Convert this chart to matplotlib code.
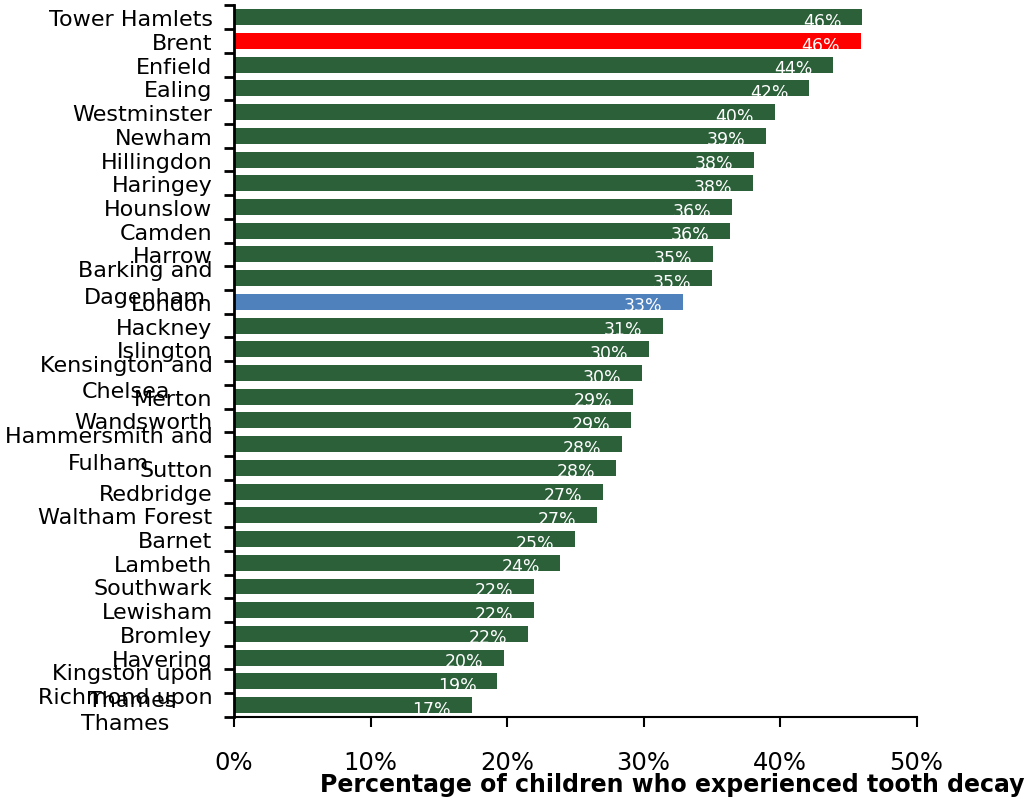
import matplotlib.pyplot as plt

boroughs = ["Tower Hamlets", "Brent", "Enfield", "Ealing", "Westminster", "Newham",
            "Hillingdon", "Haringey", "Hounslow", "Camden", "Harrow",
            "Barking and\nDagenham", "London", "Hackney", "Islington",
            "Kensington and\nChelsea", "Merton", "Wandsworth",
            "Hammersmith and\nFulham", "Sutton", "Redbridge", "Waltham Forest",
            "Barnet", "Lambeth", "Southwark", "Lewisham", "Bromley", "Havering",
            "Kingston upon\nThames", "Richmond upon\nThames"]
decay = [46.0, 45.9, 43.9, 42.1, 39.6, 39.0, 38.1, 38.0, 36.5, 36.3, 35.1,
         35.0, 32.9, 31.4, 30.4, 29.9, 29.2, 29.1, 28.4, 28.0, 27.0, 26.6,
         25.0, 23.9, 22.0, 22.0, 21.5, 19.8, 19.3, 17.4]
pct_labels = ["46%", "46%", "44%", "42%", "40%", "39%", "38%", "38%", "36%", "36%",
              "35%", "35%", "33%", "31%", "30%", "30%", "29%", "29%", "28%", "28%",
              "27%", "27%", "25%", "24%", "22%", "22%", "22%", "20%", "19%", "17%"]
xticks = [0, 10, 20, 30, 40, 50]

green = "#2b6039"
colors = []
for b in boroughs:
    if b == "Brent":
        colors.append("#ff0000")
    elif b == "London":
        colors.append("#4f81bd")
    else:
        colors.append(green)

fig = plt.figure(figsize=(10.31, 8.03), dpi=100)
ax = fig.add_axes([0.227, 0.106, 0.662, 0.886])

ypos = list(range(len(boroughs)))
bars = ax.barh(ypos, decay, height=0.67, color=colors)

# value labels, white, inside the bar end, clipped to the bar
for bar, v, lab in zip(bars, decay, pct_labels):
    t = ax.text(v - 1.5, bar.get_y() + bar.get_height() / 2 + 0.15, lab,
                ha="right", va="center", color="white", fontsize=12.5)
    t.set_clip_path(bar)

ax.set_ylim(len(boroughs) - 0.5, -0.5)
ax.set_xlim(0, 50)

# category labels sit on the bars, ticks between them
ax.set_yticks([y + 0.5 for y in [-1] + ypos])
ax.set_yticklabels([])
ax.set_yticks(ypos, minor=True)
ax.set_yticklabels(boroughs, minor=True, fontsize=16, multialignment="center",
                   linespacing=1.4)
ax.tick_params(axis="y", which="minor", length=0, pad=15.5)
ax.tick_params(axis="y", which="major", length=7, width=2, direction="out")

ax.set_xticks(xticks)
ax.set_xticklabels([f"{x}%" for x in xticks], fontsize=17.5)
ax.tick_params(axis="x", length=7, width=1.5, direction="out", pad=17)

for s in ["top", "right"]:
    ax.spines[s].set_visible(False)
ax.spines["left"].set_linewidth(2)
ax.spines["bottom"].set_linewidth(1.5)

fig.text(0.994, 0.0224, "Percentage of children who experienced tooth decay",
         ha="right", va="center", fontsize=17, fontweight="bold")

fig.savefig("out.png", dpi=100)
